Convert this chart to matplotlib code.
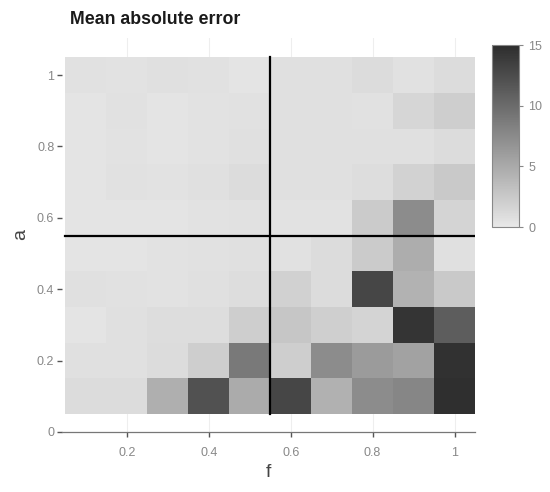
import matplotlib
matplotlib.use('Agg')
import matplotlib.pyplot as plt
import numpy as np
from matplotlib.colors import LinearSegmentedColormap

# grid centres
f_vals = [0.1, 0.2, 0.3, 0.4, 0.5, 0.6, 0.7, 0.8, 0.9, 1.0]
a_vals = [0.1, 0.2, 0.3, 0.4, 0.5, 0.6, 0.7, 0.8, 0.9, 1.0]

# mean absolute error, one row per a (bottom to top), columns follow f
mae_a01 = [1.0, 1.0, 4.6, 12.1, 4.9, 13.0, 4.4, 7.4, 7.8, 14.8]
mae_a02 = [0.7, 0.7, 1.0, 2.1, 8.9, 2.1, 7.4, 6.2, 5.6, 14.7]
mae_a03 = [0.4, 0.7, 0.9, 0.9, 2.1, 2.7, 2.0, 1.6, 14.4, 11.1]
mae_a04 = [0.7, 0.6, 0.5, 0.7, 0.9, 1.9, 1.0, 13.0, 4.3, 2.5]
mae_a05 = [0.4, 0.4, 0.5, 0.6, 0.7, 0.6, 1.0, 2.4, 4.8, 0.7]
mae_a06 = [0.4, 0.4, 0.4, 0.5, 0.6, 0.5, 0.5, 2.4, 7.4, 1.6]
mae_a07 = [0.4, 0.6, 0.5, 0.7, 1.0, 0.7, 0.7, 0.9, 1.8, 2.5]
mae_a08 = [0.4, 0.5, 0.4, 0.5, 0.7, 0.7, 0.7, 0.7, 0.7, 1.0]
mae_a09 = [0.4, 0.6, 0.4, 0.5, 0.6, 0.7, 0.7, 0.6, 1.5, 2.1]
mae_a10 = [0.6, 0.5, 0.7, 0.6, 0.4, 0.7, 0.7, 1.0, 0.6, 1.0]

threshold_f = 0.55
threshold_a = 0.55

Z = np.array([mae_a01, mae_a02, mae_a03, mae_a04, mae_a05,
              mae_a06, mae_a07, mae_a08, mae_a09, mae_a10])

cmap = LinearSegmentedColormap.from_list('greys', ['#e8e8e8', '#2d2d2d'])

plt.rcParams['font.family'] = ['Liberation Sans', 'DejaVu Sans']

fig = plt.figure(figsize=(5.5, 4.92), dpi=100)
ax = fig.add_axes([62/550, 60/492, 413/550, 394/492])

f_edges = np.append(np.array(f_vals) - 0.05, f_vals[-1] + 0.05)
a_edges = np.append(np.array(a_vals) - 0.05, a_vals[-1] + 0.05)
mesh = ax.pcolormesh(f_edges, a_edges, Z, cmap=cmap, vmin=0, vmax=15)

ax.plot([threshold_f, threshold_f], [a_edges[0], a_edges[-1]], color='black', lw=1.6)
ax.plot([f_edges[0], f_edges[-1]], [threshold_a, threshold_a], color='black', lw=1.6)

ax.set_xlim(0.0415, 1.05)
ax.set_ylim(0, 1.104)
ax.set_xticks([0.2, 0.4, 0.6, 0.8, 1.0])
ax.set_xticklabels(['0.2', '0.4', '0.6', '0.8', '1'])
ax.set_yticks([0, 0.2, 0.4, 0.6, 0.8, 1.0])
ax.set_yticklabels(['0', '0.2', '0.4', '0.6', '0.8', '1'])
ax.grid(axis='x', color='#eeeeee', lw=0.8, zorder=0)
ax.set_axisbelow(True)
for s in ['top', 'right', 'left']:
    ax.spines[s].set_visible(False)
ax.spines['bottom'].set_color('#777777')
ax.spines['bottom'].set_linewidth(0.9)
ax.tick_params(axis='both', colors='#555555', labelcolor='#888888',
               labelsize=9, length=3.5, width=1, pad=7)
ax.tick_params(axis='y', pad=2)

ax.set_xlabel('f', fontsize=14, color='#444444', labelpad=4)
ax.set_ylabel('a', fontsize=14, color='#444444', labelpad=6)
fig.text(70/550, 1 - 20/492, 'Mean absolute error', fontsize=12.8,
         fontweight='bold', color='#1a1a1a', va='center', ha='left')

cax = fig.add_axes([492/550, 1 - 227/492, 27/550, 182/492])
cb = fig.colorbar(mesh, cax=cax, ticks=[0, 5, 10, 15])
cb.outline.set_edgecolor('#888888')
cb.outline.set_linewidth(0.8)
cax.tick_params(colors='#888888', labelcolor='#888888', labelsize=9,
                length=3, width=0.8)

fig.savefig('out.png', dpi=100)
